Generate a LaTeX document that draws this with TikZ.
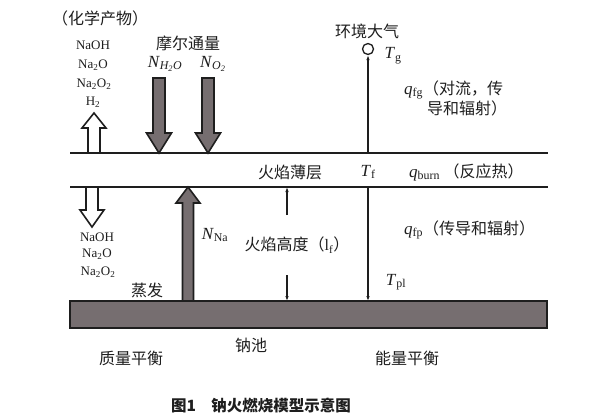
\documentclass[tikz,border=0pt]{standalone}
\usepackage{fontspec}
\setmainfont{Liberation Serif}
\newfontfamily\cjk{Noto Sans CJK SC}
\usetikzlibrary{arrows.meta}
\definecolor{fillgray}{RGB}{118,110,112}
\definecolor{inkc}{RGB}{30,30,30}
\newcommand{\qsym}{\fontsize{17}{19}\selectfont\rmfamily}
\newcommand{\zhsym}{\cjk\fontsize{16}{19}\selectfont}
\tikzset{
  thinline/.style={draw=inkc,line width=1.1pt},
  thinarrow/.style={draw=inkc,line width=1.1pt,-{Latex[length=5pt,width=3.5pt]}},
  hollow/.style={draw=inkc,line width=1.6pt,fill=white,line join=miter},
  grayarrow/.style={draw=inkc,line width=1.6pt,fill=fillgray,line join=miter},
  pool/.style={draw=inkc,line width=1.8pt,fill=fillgray},
  zh/.style={font=\cjk\fontsize{16}{19}\selectfont,text=inkc,inner sep=0pt},
  lat/.style={font=\fontsize{13}{15}\selectfont,text=inkc,inner sep=0pt},
  sym/.style={font=\fontsize{17}{19}\selectfont,text=inkc,inner sep=0pt},
}
\begin{document}
\begin{tikzpicture}[x=1pt,y=-1pt]
\useasboundingbox[fill=white] (0,0) rectangle (604,418);
% lines
\coordinate (l1a) at (70,153); \coordinate (l1b) at (548,153);
\coordinate (l2a) at (70,187); \coordinate (l2b) at (548,187);
\draw[thinline] (l1a) -- (l1b);
\draw[thinline] (l2a) -- (l2b);
% pool
\draw[pool] (70,301) rectangle (547,328);
% block arrows
\draw[hollow] (88,153) -- (88,128) -- (82,128) -- (94,113) -- (106,128) -- (100,128) -- (100,153) -- cycle;
\draw[grayarrow] (153,78) -- (165,78) -- (165,133) -- (171.5,133) -- (159,153) -- (146.5,133) -- (153,133) -- cycle;
\draw[grayarrow] (202,78) -- (214,78) -- (214,133) -- (220.5,133) -- (208,153) -- (195.5,133) -- (202,133) -- cycle;
\draw[hollow] (86,187) -- (98,187) -- (98,210) -- (104,210) -- (92,227) -- (80,210) -- (86,210) -- cycle;
\draw[grayarrow] (182.5,301) -- (182.5,203) -- (176,203) -- (188,187) -- (200,203) -- (193.5,203) -- (193.5,301) -- cycle;
% atmosphere point
\node[draw=inkc,line width=1.3pt,circle,minimum size=11pt,inner sep=0pt] (tg) at (368,49) {};
\coordinate (tgbase) at (368,153);
\draw[thinarrow] (tgbase) -- (tg.south);
% flame temperature line
\coordinate (tfa) at (368,187); \coordinate (tfb) at (368,301);
\draw[thinarrow] (tfa) -- (tfb);
% flame height
\coordinate (fh1) at (287,215); \coordinate (fh2) at (287,275);
\coordinate (fht) at (287,187); \coordinate (fhb) at (287,301);
\draw[thinarrow] (fh1) -- (fht);
\draw[thinarrow] (fh2) -- (fhb);
% texts top-left
\node[zh] (chem) at (100,18) {（化学产物）};
\node[lat] (p1) at (93,45) {NaOH};
\node[lat] (p2) at (93,65) {Na\textsubscript{2}O};
\node[lat] (p3) at (94,84) {Na\textsubscript{2}O\textsubscript{2}};
\node[lat] (p4) at (93,102) {H\textsubscript{2}};
\node[zh] (mol) at (188,43) {摩尔通量};
\node[sym] (nh2o) at (165,64) {\textit{N}\textsubscript{\itshape H\textsubscript{2}O}};
\node[sym] (no2) at (213,64) {\textit{N}\textsubscript{\itshape O\textsubscript{2}}};
% texts top-right
\node[zh] (atm) at (367,31) {环境大气};
\node[sym] (tgl) at (393,56) {\textit{T}\textsubscript{g}};
\node[zh,anchor=west] (qfg) at (404,90) {\qsym\textit{q}\textsubscript{fg}\zhsym（对流，传};
\node[zh,anchor=west] (qfg2) at (427,108) {导和辐射）};
% flame layer row
\node[zh] (flame) at (290,172) {火焰薄层};
\node[sym] (tf) at (368,172) {\textit{T}\textsubscript{f}};
\node[zh,anchor=west] (qb) at (409,172) {\qsym\textit{q}\textsubscript{burn}\zhsym\ （反应热）};
% lower left
\node[lat] (d1) at (97,237) {NaOH};
\node[lat] (d2) at (97,254) {Na\textsubscript{2}O};
\node[lat] (d3) at (98,272) {Na\textsubscript{2}O\textsubscript{2}};
\node[zh] (evap) at (147,290) {蒸发};
\node[sym] (nna) at (215,235) {\textit{N}\textsubscript{Na}};
\node[zh] (fhl) at (297,245) {火焰高度（\rmfamily l\textsubscript{f}\cjk）};
\node[zh,anchor=west] (qfp) at (404,230) {\qsym\textit{q}\textsubscript{fp}\zhsym（传导和辐射）};
\node[sym] (tpl) at (396,282) {\textit{T}\textsubscript{pl}};
% bottom labels
\node[zh] (mass) at (131,358) {质量平衡};
\node[zh] (poolt) at (251,345) {钠池};
\node[zh] (energy) at (407,358) {能量平衡};
\node[zh,font=\cjk\bfseries\fontsize{15.5}{18}\selectfont] (cap) at (261,406) {图1\hspace{1em}钠火燃烧模型示意图};
\end{tikzpicture}
\end{document}
